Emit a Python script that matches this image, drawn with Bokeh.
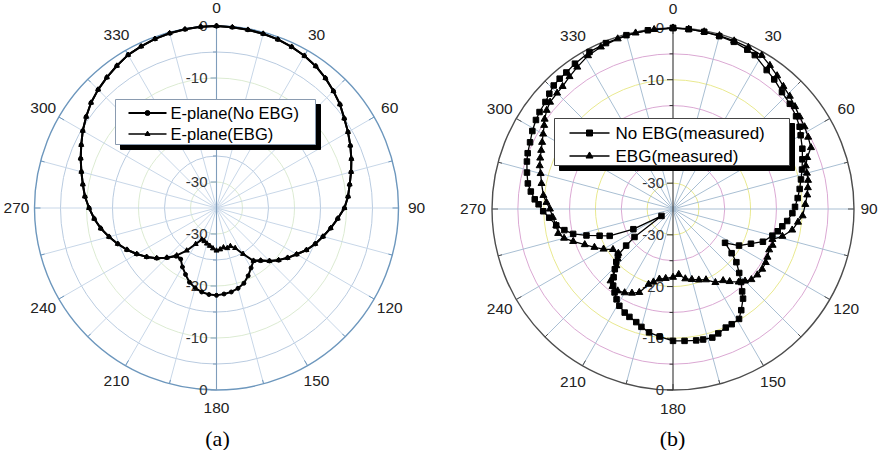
import math
from bokeh.plotting import figure
from bokeh.layouts import row
from bokeh.models import Range1d
from bokeh.embed import file_html
from bokeh.resources import INLINE
from bokeh.core.properties import value

# ---------------- data ----------------
DB_MIN = -35.0
radial_ticks = [0, -10, -20, -30]
angle_ticks = [0, 30, 60, 90, 120, 150, 180, 210, 240, 270, 300, 330]
angle_labels = ["0", "30", "60", "90", "120", "150", "180", "210", "240", "270", "300", "330"]

# (a) simulated E-plane
ang_a = list(range(0, 361, 5))
noebg_a = [0, -0.1, -0.2, -0.3, -0.5, -0.8, -1.2, -1.7, -2.4, -3.2,
           -4.0, -5.0, -5.8, -6.6, -7.4, -8.2, -9.0, -9.6, -10.4, -11.6,
           -12.7, -13.8, -14.8, -15.9, -17.2, -18.3, -19.4, -20.6, -21.8, -22.6,
           -21.7, -20.6, -19.6, -19.0, -18.6, -18.4, -18.2, -18.3, -18.6, -19.1,
           -19.8, -20.9, -21.9, -23.0, -22.9, -21.5, -20.0, -18.6, -17.3, -16.0,
           -14.8, -13.6, -12.4, -11.4, -10.5, -9.6, -8.9, -8.1, -7.2, -6.3,
           -5.3, -4.4, -3.5, -2.8, -2.2, -1.6, -1.0, -0.7, -0.4, -0.2,
           -0.1, 0, 0]
ebg_a = [0, -0.1, -0.2, -0.3, -0.5, -0.8, -1.2, -1.7, -2.4, -3.2,
         -4.0, -5.0, -5.8, -6.6, -7.4, -8.2, -9.0, -9.6, -10.4, -11.6,
         -12.7, -13.8, -14.8, -15.9, -17.2, -18.3, -19.4, -20.6, -21.8, -22.6,
         -24.8, -26.5, -27.2, -27.0, -27.3, -27.0, -26.8, -27.2, -27.6, -27.9,
         -28.2, -28.3, -27.0, -25.0, -23.1, -21.5, -20.0, -18.6, -17.3, -16.0,
         -14.8, -13.6, -12.4, -11.4, -10.5, -9.6, -8.9, -8.1, -7.2, -6.3,
         -5.3, -4.4, -3.5, -2.8, -2.2, -1.6, -1.0, -0.7, -0.4, -0.2,
         -0.1, 0, 0]

# (b) measured
ang_nb = [0, 5, 10, 15, 20, 25, 28, 34, 38, 43, 48, 53, 57, 60, 65, 69, 73, 77, 81, 85,
          89, 92, 96, 99, 102, 105, 110, 114, 119, 123, 127, 130, 134, 137, 140, 142, 146, 149, 153, 156,
          160, 163, 167, 170, 175, 180, 186, 191, 195, 198, 202, 205, 209, 212, 215, 218, 221, 224, 227, 230,
          232, 234, 239, 243, 247, 250, 253, 256, 259, 262, 266, 269, 272, 274, 277, 280, 284, 288, 291, 295,
          299, 303, 306, 310, 313, 316, 319, 322, 326, 332, 338, 345, 352, 360]
noebg_b = [0, -0.1, -0.2, -0.4, -0.6, -1.0, -1.3, -2.6, -3.2, -4.1, -4.6, -5.2, -5.8, -6.5, -7.4, -8.2, -8.9, -9.6, -10.2, -10.8,
           -11.4, -11.9, -12.8, -13.6, -14.3, -15.1, -16.5, -18.5, -20.4, -23.0, -20.8, -19.0, -17.2, -15.7, -14.2, -13.0, -11.4, -10.2, -10.0, -9.9,
           -9.4, -9.0, -9.1, -9.2, -9.4, -9.5, -10.2, -10.7, -11.4, -12.0, -12.5, -12.9, -13.6, -14.4, -15.3, -16.2, -17.5, -18.8, -20.0, -21.1,
           -23.5, -25.8, -32.4, -26.4, -21.7, -19.9, -17.5, -15.1, -13.6, -12.2, -11.0, -9.9, -9.0, -8.2, -7.3, -6.5, -5.9, -5.3, -4.9, -4.5,
           -3.9, -3.4, -3.1, -2.8, -2.3, -1.8, -1.6, -1.5, -1.1, -0.6, -0.4, -0.2, -0.1, 0]
ang_eb = [0, 5, 10, 15, 20, 25, 30, 34, 38, 42, 46, 50, 54, 58, 62, 66, 69, 72, 75, 78,
          81, 84, 88, 93, 96, 100, 104, 107, 110, 113, 117, 120, 124, 128, 132, 135, 138, 142, 145, 150,
          155, 160, 165, 170, 175, 180, 186, 191, 195, 198, 202, 206, 210, 214, 218, 221, 225, 228, 231, 236,
          240, 244, 248, 252, 255, 258, 262, 266, 270, 273, 276, 281, 285, 288, 291, 294, 297, 300, 303, 305,
          308, 311, 315, 318, 322, 326, 331, 336, 342, 348, 354, 360]
ebg_b = [0, -0.1, -0.2, -0.3, -0.4, -0.5, -0.7, -1.5, -2.3, -3.1, -3.6, -4.2, -4.7, -5.0, -5.4, -5.8, -7.2, -8.0, -8.2, -8.3,
         -8.6, -8.9, -9.4, -9.9, -10.7, -11.6, -13.2, -14.9, -14.5, -14.8, -14.5, -14.3, -14.2, -14.3, -14.6, -15.3, -16.0, -17.2, -18.1, -18.6,
         -19.9, -20.4, -20.9, -21.3, -22.3, -21.8, -21.5, -21.2, -20.4, -19.7, -17.6, -16.9, -16.3, -15.9, -16.0, -16.6, -19.5, -20.6, -21.4, -21.0,
         -19.5, -18.1, -16.6, -14.7, -13.2, -12.3, -12.2, -11.7, -11.2, -10.5, -9.8, -9.1, -8.5, -7.9, -7.5, -7.1, -6.6, -6.0, -5.3, -4.7,
         -4.0, -3.5, -3.3, -3.1, -2.5, -1.9, -1.1, -0.7, -0.4, -0.2, -0.1, 0]

# ---------------- layout ----------------
H = 450
M = 8
FONT = value("Liberation Sans")


def to_xy(angles, dbs):
    xs, ys = [], []
    for a, d in zip(angles, dbs):
        r = max(d - DB_MIN, 0.0)
        t = math.radians(a)
        xs.append(r * math.sin(t))
        ys.append(r * math.cos(t))
    return xs, ys


def make_panel(width, page_left, cx, cy, rpx):
    k = rpx / (-DB_MIN)
    p = figure(width=width, height=H,
               x_range=Range1d((page_left - cx) / k, (page_left + width - cx) / k),
               y_range=Range1d((cy - (M + H)) / k, (cy - M) / k),
               output_backend="svg", toolbar_location=None,
               x_axis_type=None, y_axis_type=None, min_border=0,
               outline_line_color=None)
    p.xgrid.visible = False
    p.ygrid.visible = False

    def px(X, Y):
        return (X - cx) / k, (cy - Y) / k
    return p, k, px


def draw_grid(p, k, ring_cols, radial_col, outer_col, axis_col, label_r):
    R = -DB_MIN
    for db in [-5, -10, -15, -20, -25, -30]:
        col = ring_cols[0] if db % 10 else ring_cols[1]
        p.circle(x=[0], y=[0], radius=[db - DB_MIN], fill_color=None, line_color=col, line_width=1)
    angs = [a for a in range(0, 360, 15) if a not in (0, 180)]
    x1 = [R * math.sin(math.radians(a)) for a in angs]
    y1 = [R * math.cos(math.radians(a)) for a in angs]
    p.segment(x0=[0] * len(angs), y0=[0] * len(angs), x1=x1, y1=y1, line_color=radial_col, line_width=1)
    p.circle(x=[0], y=[0], radius=[R], fill_color=None, line_color=outer_col, line_width=1.4)
    tk = [a for a in range(0, 360, 15)]
    tl = [6.0 / k if a % 30 == 0 else 4.0 / k for a in tk]
    p.segment(x0=[R * math.sin(math.radians(a)) for a in tk],
              y0=[R * math.cos(math.radians(a)) for a in tk],
              x1=[(R - l) * math.sin(math.radians(a)) for a, l in zip(tk, tl)],
              y1=[(R - l) * math.cos(math.radians(a)) for a, l in zip(tk, tl)],
              line_color=outer_col, line_width=1)
    p.segment(x0=[0], y0=[-R], x1=[0], y1=[R], line_color=axis_col, line_width=1.1)
    vals = [v for v in range(0, -35, -5)]
    ys, ls = [], []
    for v in vals:
        for s in (1, -1):
            ys.append(s * (v - DB_MIN))
            ls.append((6.0 if v % 10 == 0 else 3.5) / k)
    p.segment(x0=[0] * len(ys), y0=ys, x1=[-l for l in ls], y1=ys, line_color=axis_col, line_width=1)
    ly = [s * (v - DB_MIN) for v in radial_ticks for s in (1, -1)]
    lt = [str(v) for v in radial_ticks for s in (1, -1)]
    p.text(x=[0] * len(ly), y=ly, text=lt, x_offset=-9, text_align="right", text_baseline="middle",
           text_font=FONT, text_font_size="15px", text_color="#333333")
    rl = [label_r.get(a, 200.0) / k for a in angle_ticks]
    p.text(x=[r * math.sin(math.radians(a)) for a, r in zip(angle_ticks, rl)],
           y=[r * math.cos(math.radians(a)) for a, r in zip(angle_ticks, rl)],
           text=angle_labels, text_align="center", text_baseline="middle",
           text_font=FONT, text_font_size="15.5px", text_color="#222222")


def draw_legend(p, px, box, rows, font_size, border_col):
    X0, Y0, X1, Y1 = box
    l, t = px(X0 + 5, Y0 + 5)
    r, b = px(X1 + 5, Y1 + 5)
    p.quad(left=[l], right=[r], top=[t], bottom=[b], fill_color="black", line_color="black")
    l, t = px(X0, Y0)
    r, b = px(X1, Y1)
    p.quad(left=[l], right=[r], top=[t], bottom=[b], fill_color="white", line_color=border_col, line_width=1)
    for (Y, xa, xb, xm, xt, label, marker, msize, lw) in rows:
        xa_, y_ = px(xa, Y)
        xb_, _ = px(xb, Y)
        xm_, _ = px(xm, Y)
        xt_, _ = px(xt, Y)
        p.line(x=[xa_, xb_], y=[y_, y_], line_color="black", line_width=lw)
        p.scatter(x=[xm_], y=[y_], marker=marker, size=msize, fill_color="black", line_color="black")
        p.text(x=[xt_], y=[y_], text=[label], text_align="left", text_baseline="middle",
               text_font=FONT, text_font_size=font_size, text_color="black")


# ---------- panel (a) ----------
pa, ka, pxa = make_panel(444, M, 224.0, 215.5, 182.0)
draw_grid(pa, ka, ("#b9cbe0", "#dcebd2"), "#c8d7e8", "#6d97bd", "#7f9dbb", {})
xa1, ya1 = to_xy(ang_a, noebg_a)
xa2, ya2 = to_xy(ang_a, ebg_a)
pa.line(x=xa1, y=ya1, line_color="black", line_width=2)
pa.scatter(x=xa1, y=ya1, marker="circle", size=4, fill_color="black", line_color="black")
pa.line(x=xa2, y=ya2, line_color="black", line_width=2)
pa.scatter(x=xa2, y=ya2, marker="triangle", size=5, fill_color="black", line_color="black")
draw_legend(pa, pxa, (123, 107, 323, 152),
            [(120.5, 136, 174, 155, 178, "E-plane(No EBG)", "circle", 5, 2),
             (141.5, 136, 174, 155, 178, "E-plane(EBG)", "triangle", 5, 1.3)],
            "16.5px", "#8a9bb0")
tx, ty = pxa(225, 446)
pa.text(x=[tx], y=[ty], text=["(a)"], text_align="center", text_baseline="middle",
        text_font=value("Liberation Serif"), text_font_size="22px", text_color="black")

# ---------- panel (b) ----------
pb, kb, pxb = make_panel(438, M + 444, 680.5, 216.5, 181.0)
draw_grid(pb, kb, ("#dba8d3", "#e9e98f"), "#a9bfd3", "#4d4d4d", "#333333", {90: 196.0})
xb1, yb1 = to_xy(ang_nb, noebg_b)
xb2, yb2 = to_xy(ang_eb, ebg_b)
pb.line(x=xb1, y=yb1, line_color="black", line_width=1.3)
pb.scatter(x=xb1, y=yb1, marker="square", size=5.5, fill_color="black", line_color="black")
pb.line(x=xb2, y=yb2, line_color="black", line_width=1.3)
pb.scatter(x=xb2, y=yb2, marker="triangle", size=7, fill_color="black", line_color="black")
draw_legend(pb, pxb, (562, 126, 797, 173),
            [(140.5, 577, 617, 597, 623, "No EBG(measured)", "square", 6, 1.3),
             (163.5, 577, 617, 597, 623, "EBG(measured)", "triangle", 7, 1.3)],
            "17px", "#444444")
tx, ty = pxb(680, 446)
pb.text(x=[tx], y=[ty], text=["(b)"], text_align="center", text_baseline="middle",
        text_font=value("Liberation Serif"), text_font_size="22px", text_color="black")

layout = row(pa, pb)
open("out.html", "w").write(file_html(layout, INLINE))
